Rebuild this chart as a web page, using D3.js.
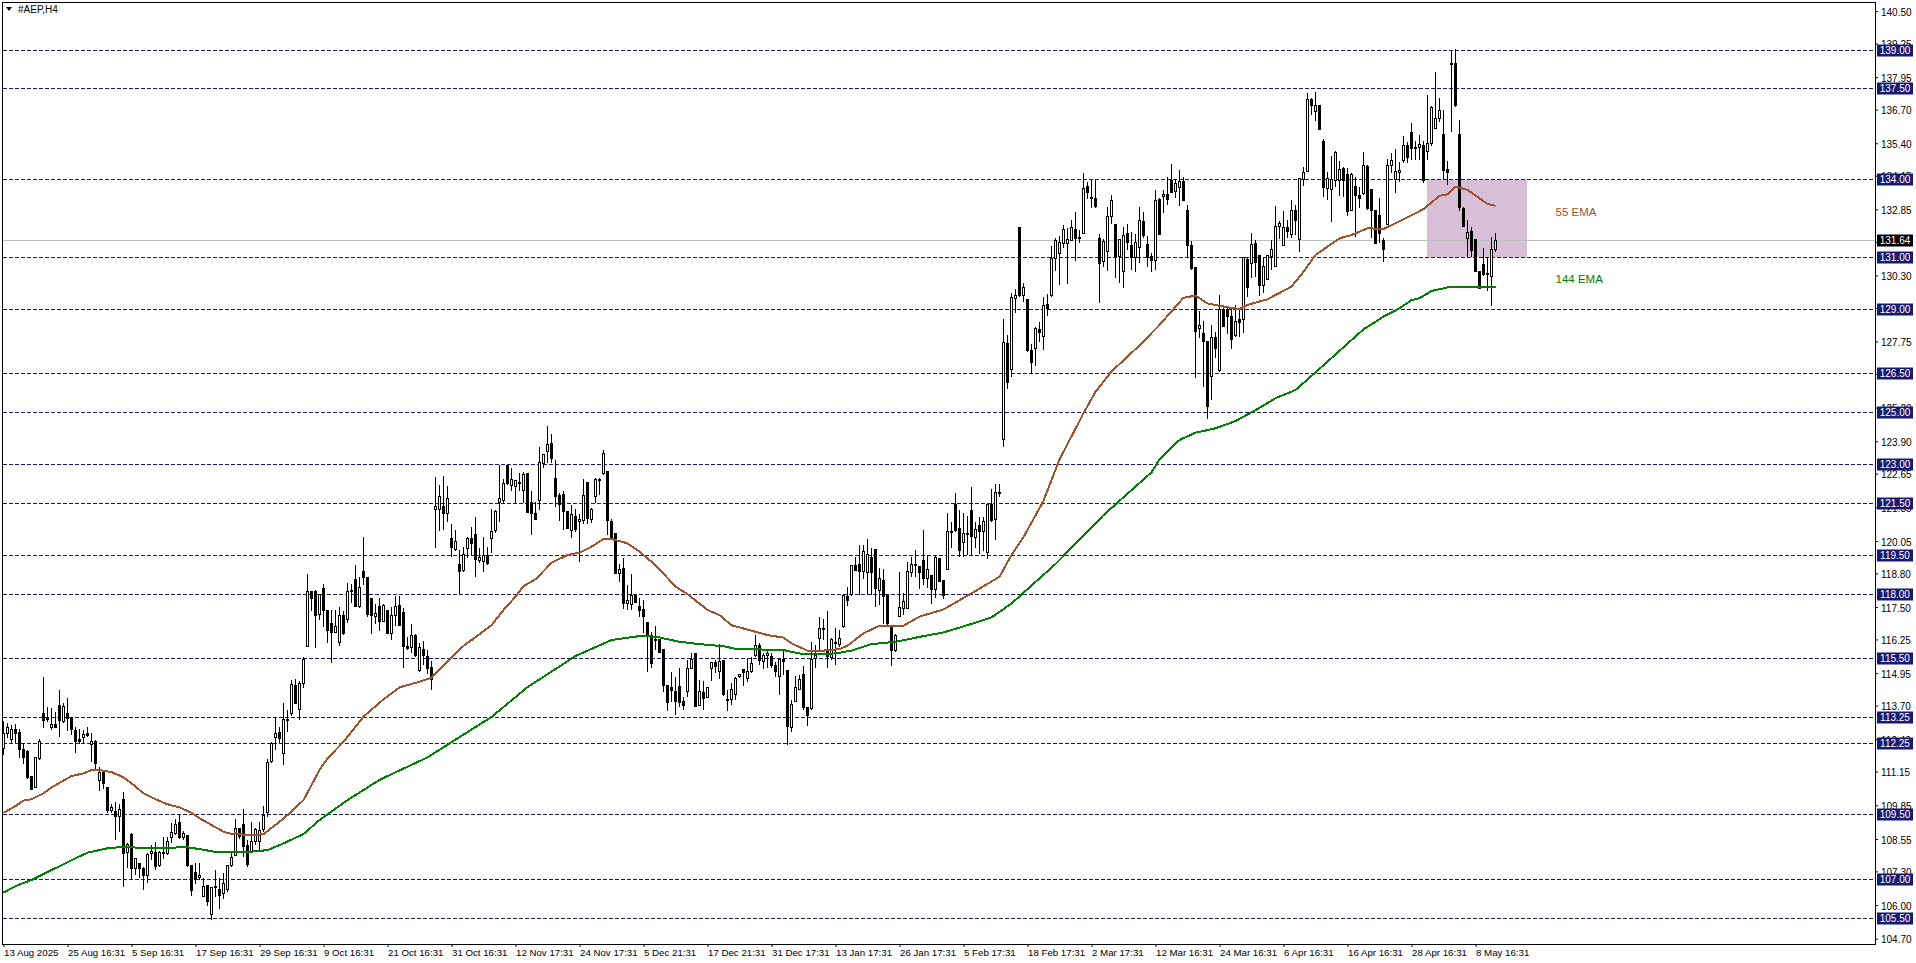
<!DOCTYPE html>
<html>
<head>
<meta charset="utf-8">
<title>#AEP,H4</title>
<script src="https://d3js.org/d3.v7.min.js"></script>
<style>
    body { margin: 0; background: #fff; overflow: hidden; }
    text { font-family: "Liberation Sans", sans-serif; }
</style>
</head>
<body>
<div id="chart"></div>
<script>
// Candles as [open, high, low, close], one small list per stretch of the chart
const barsAugSep = [
[112.05,113.12,111.79,112.63],[112.63,113.04,112.43,112.86],[112.40,112.95,112.24,112.78],[112.78,112.99,112.24,112.63],[112.67,112.78,111.66,112.02],
[112.01,112.24,111.44,111.70],[111.94,111.98,110.85,110.93],[110.98,110.98,110.44,110.47],[110.54,111.70,110.50,111.70],[111.66,112.40,111.60,112.30],
[113.40,114.81,112.82,113.14],[113.20,113.66,113.08,113.18],[112.85,113.59,112.76,112.95],[112.97,113.46,112.85,112.85],[113.72,114.30,112.50,113.14],
[113.11,113.78,113.04,113.68],[113.40,113.98,112.73,113.20],[113.20,113.27,112.56,112.76],[112.72,112.88,111.88,112.30],[112.37,112.79,112.21,112.30],
[112.47,112.76,112.21,112.59],[112.63,112.86,112.50,112.56],[112.18,112.63,111.53,112.30],[112.33,112.37,111.21,111.49],[110.80,111.34,110.41,111.11],
[111.11,111.21,110.47,110.67],[110.54,110.54,109.56,109.64],[109.64,109.90,109.54,109.77],[109.60,109.99,108.51,109.41],[109.41,109.90,108.83,109.69],
[110.08,110.38,106.71,108.00],[108.00,108.41,107.42,108.32],[108.74,108.77,106.99,107.42],[107.42,107.80,107.16,107.80],[107.61,107.61,107.03,107.42],
[107.42,107.48,106.58,107.16],[107.16,108.00,106.84,107.97],[108.00,108.32,107.74,108.06],[108.02,108.45,107.35,107.48],[107.51,108.10,107.48,108.02],
[108.02,108.61,107.76,108.00],[108.00,108.64,107.93,108.45],[108.61,109.15,108.41,108.79],[108.77,109.31,108.70,109.11],[109.19,109.47,108.54,108.61],
[108.61,108.86,108.51,108.77],[108.69,108.70,107.48,107.52],[107.52,107.52,106.35,106.55],[107.26,107.64,106.81,107.00],[107.07,107.64,106.97,107.13],
[106.36,107.03,106.30,106.73],[106.75,106.77,105.96,106.14],[105.62,106.71,105.42,106.68],[106.71,107.35,106.32,106.67],[106.61,107.03,105.83,106.39],
[106.45,107.22,106.22,106.84],[106.58,107.55,106.52,107.52],[107.52,108.02,107.48,107.84],[107.93,109.31,107.89,108.96],[108.96,108.96,108.54,108.64],
[109.11,109.69,107.87,108.25],[108.28,108.51,107.48,107.55],[108.06,109.22,108.02,108.45],[108.45,108.96,108.32,108.90],[108.45,109.22,108.06,108.87],
[108.90,109.82,108.83,109.45],[109.60,111.62,109.41,111.52],[111.53,112.30,111.49,112.24],[112.47,113.24,111.98,112.63],[112.65,112.88,112.24,112.41],
[111.85,113.78,111.40,113.17],[113.18,113.53,112.69,113.17],[113.42,114.68,113.30,114.52],[114.49,114.71,113.76,113.81],[113.55,114.65,113.14,114.56],
[114.53,115.56,114.36,115.46]
];
const barsOctNov = [
[115.97,118.78,115.95,118.09],[118.09,118.12,117.36,117.81],[118.12,118.16,115.91,117.19],[117.19,118.00,117.00,117.97],[118.22,118.39,116.72,117.36],
[117.35,117.39,116.10,116.59],[116.87,117.39,115.35,116.51],[116.51,117.39,116.51,116.74],[116.13,117.52,116.00,117.19],[117.16,117.35,116.42,116.46],
[117.00,118.42,116.87,118.09],[118.13,118.39,117.64,118.09],[118.57,119.12,117.52,117.54],[117.52,118.65,117.45,118.26],[118.87,120.22,118.35,118.65],
[118.65,118.67,117.13,117.23],[117.84,117.84,116.46,117.17],[117.16,117.60,116.85,117.26],[117.54,117.84,116.59,116.98],[116.98,117.60,116.98,117.58],
[117.35,117.35,116.46,116.46],[116.46,117.52,116.23,117.16],[117.19,117.93,116.77,117.54],[117.58,117.93,116.77,116.81],[117.30,117.45,115.14,115.97],
[115.97,116.33,115.84,115.91],[115.95,116.85,115.71,116.42],[116.42,116.46,115.59,115.65],[115.07,116.10,115.01,115.95],[115.85,116.20,115.25,115.60],
[115.60,115.85,114.90,115.15],[115.15,115.40,114.30,114.70],
[121.27,122.53,119.77,121.38],[121.27,122.21,120.45,121.76],[121.40,122.56,120.48,121.14],[121.14,122.17,120.80,121.70],[120.15,120.71,119.45,119.81],
[119.75,120.48,119.65,120.05],[119.16,119.70,117.99,118.90],[118.93,119.83,118.87,119.54],[119.73,120.19,119.38,120.13],[120.13,120.60,119.51,119.93],
[120.32,120.96,118.67,119.34],[119.32,119.77,119.19,119.42],[119.25,120.22,118.87,119.50],[119.50,119.81,119.12,119.21],[120.14,121.29,119.60,120.42],
[120.45,121.25,120.37,121.17],[121.53,122.98,120.80,121.70],[121.63,122.43,121.53,122.28],[122.95,122.98,122.21,122.25],[122.20,122.86,121.99,122.43],
[122.15,122.41,121.48,122.37],[122.31,122.66,121.99,122.30],[122.02,122.70,121.50,122.62],[122.66,122.66,121.14,121.16],[121.54,121.98,120.28,121.12],
[121.12,121.57,120.86,120.89],[121.61,123.67,121.25,123.07],[123.07,123.41,122.86,123.40],[123.51,124.49,123.07,123.77],[123.80,124.18,123.07,123.23],
[122.47,123.18,121.35,121.76],[121.79,121.92,120.84,121.44],[121.85,121.98,120.48,121.18],[121.19,121.22,120.51,120.54],[120.48,121.44,120.18,121.08],
[120.99,121.27,120.38,120.48],[120.81,121.09,119.25,120.89],[120.84,122.43,120.69,121.81],[122.29,122.31,120.69,120.90],[120.89,121.34,120.76,121.27],
[121.74,122.47,121.53,122.41],[122.43,122.47,121.83,122.38],[122.64,123.56,122.61,123.43]
];
const barsDecJan = [
[122.74,122.75,120.28,120.84],[120.80,120.90,120.09,120.13],[120.35,120.37,118.78,118.80],[118.80,119.16,118.48,118.96],[119.00,119.41,117.41,117.65],
[117.65,118.35,117.39,117.75],[117.61,118.78,117.39,117.95],[117.95,117.97,117.64,117.67],[117.54,117.84,117.13,117.39],[117.39,117.77,116.51,117.13],
[116.91,116.91,115.01,116.42],[116.40,116.55,115.14,115.33],[116.25,116.77,115.84,116.20],[116.23,116.23,115.71,115.74],[115.88,115.88,114.23,114.50],
[114.49,114.49,113.50,113.85],[114.38,114.99,113.85,114.27],[114.26,114.81,113.33,113.89],[114.45,115.14,113.63,113.85],[113.87,114.04,113.53,113.72],
[114.27,115.46,114.04,115.14],[115.14,115.74,115.14,115.48],[115.69,115.71,113.63,113.66],[113.72,114.69,113.68,114.25],[114.22,114.65,113.53,114.00],
[114.02,114.43,113.98,114.40],[115.14,115.39,114.66,115.37],[115.37,115.46,114.97,115.20],[115.01,116.07,114.71,115.41],[115.42,115.42,114.07,114.11],
[113.95,114.30,113.50,113.92],[113.94,114.56,113.72,114.33],[114.13,114.81,113.91,114.75],[114.79,114.92,114.75,114.88],[115.10,115.10,114.45,114.97],
[114.74,115.48,114.61,115.02],[115.01,115.59,114.97,115.33],[115.62,116.42,115.59,116.01],[116.00,116.10,115.26,115.43],[115.42,115.71,115.10,115.64],
[115.64,115.87,115.14,115.71],[115.59,115.74,115.14,115.26],[115.26,115.39,114.81,115.01],[114.81,115.50,114.11,115.47],[115.48,115.84,114.88,115.41],
[115.06,115.07,112.18,112.88],[112.86,113.91,112.69,113.75],[113.85,114.84,113.85,114.40],[114.34,114.88,114.30,114.71],[114.88,115.23,113.53,113.59],
[113.63,113.66,112.91,113.33],[113.55,116.16,113.53,115.46],[115.52,116.04,115.14,115.65],[116.29,117.13,115.84,116.68],[116.68,117.03,116.23,116.64],
[115.84,117.35,115.14,115.59],[115.56,116.29,115.46,116.25],[116.14,116.70,115.26,116.10],[116.07,116.61,115.97,116.29],[116.74,117.97,116.70,117.93],
[117.90,118.26,117.54,117.75],[117.97,119.12,117.93,119.10],[119.12,119.42,118.90,118.93],[119.16,119.90,117.97,118.90],[118.87,119.90,118.57,119.64],
[118.80,120.11,117.97,119.51],[119.42,119.77,117.97,118.83],[119.73,119.74,117.52,118.22],[118.13,118.99,117.58,118.61],[118.51,118.96,116.83,117.88],
[117.93,117.97,116.81,116.85],[116.74,116.77,115.23,115.82],[115.82,116.46,115.76,116.41],[117.13,118.84,117.13,117.49],[117.45,118.06,117.19,117.71],
[117.45,119.25,117.41,118.88],[118.85,119.42,118.67,119.15],[119.12,119.70,118.67,119.13],[119.08,119.08,118.18,118.83],[119.28,120.47,118.35,118.57],
[118.61,119.51,118.22,118.96],[118.70,118.70,117.62,118.16],[118.18,119.52,117.84,119.42],[119.39,119.39,118.48,118.52],[118.54,118.54,117.81,117.97],
[118.96,121.12,118.93,120.42],[120.42,120.80,119.77,120.38],[121.46,121.89,120.41,120.47],[120.54,121.25,119.45,119.68],[120.00,121.12,119.45,120.35],
[120.35,121.01,119.51,120.31],[121.21,122.12,119.51,120.19],[120.19,120.80,119.77,120.50],[120.65,120.99,119.55,120.42],[120.42,120.99,119.68,120.81],
[119.60,121.46,119.35,121.46],[121.44,122.04,120.80,120.82],[120.89,122.25,120.09,121.93],[121.93,122.25,121.76,121.92]
];
const barsFebMar = [
[123.97,128.62,123.67,127.72],[127.68,128.00,125.90,126.16],[126.68,129.61,126.39,129.45],[129.40,129.76,128.86,129.53],[132.16,132.18,129.48,129.54],
[129.54,130.02,129.29,129.84],[129.38,129.38,127.36,127.40],[127.42,127.65,126.48,126.97],[127.51,128.32,126.80,128.27],[128.23,128.52,127.74,128.12],
[127.97,129.48,127.42,129.15],[129.16,129.58,128.75,129.00],[129.52,131.44,129.48,130.96],[130.96,131.76,130.48,131.65],[131.15,131.82,129.93,131.58],
[131.54,132.25,131.35,132.08],[131.54,132.14,129.97,131.69],[131.67,132.44,131.64,132.16],[132.09,132.75,130.87,131.73],[131.77,132.05,131.54,131.76],
[131.92,134.27,131.90,133.66],[133.73,133.92,133.24,133.49],[133.31,133.97,132.89,133.29],[133.27,133.97,132.89,132.95],[131.71,131.90,129.22,130.74],
[130.81,131.69,130.61,131.60],[131.22,132.93,130.48,132.59],[132.57,133.40,132.28,133.20],[132.28,132.28,130.19,131.05],[131.00,131.69,130.00,131.67],
[130.45,132.16,129.80,131.85],[131.90,132.28,131.28,131.56],[131.47,131.98,130.51,131.02],[131.02,131.90,130.45,131.58],[131.37,132.95,130.77,132.43],
[132.39,132.76,131.73,131.86],[131.51,131.82,130.61,131.02],[131.04,131.15,130.45,130.87],[130.87,133.60,130.51,133.20],[133.24,133.27,131.86,131.87],
[133.34,133.60,132.72,133.43],[133.43,134.09,133.02,133.25],[133.97,134.60,133.50,133.50],[133.53,134.01,133.30,133.85],[133.69,134.37,132.99,133.93],
[133.93,134.09,133.19,133.21],[132.81,133.02,130.96,131.47],[131.47,131.63,130.51,130.57],[130.61,130.63,126.35,128.13],[128.25,128.93,127.87,128.35],
[128.04,128.55,126.01,127.74],[127.74,127.78,124.75,125.23],[126.39,128.39,125.49,127.91],[127.91,128.13,127.10,127.50],[126.62,129.54,126.59,128.97],
[128.99,129.16,128.30,128.32],[128.99,129.10,128.04,128.73],[128.73,129.10,127.47,127.86],[128.00,129.16,127.91,128.54],[128.58,128.99,127.91,128.48]
];
const barsAprMay = [
[128.60,131.00,128.09,131.00],[130.93,131.00,129.48,129.84],[130.77,131.92,130.21,131.50],[131.54,131.67,130.25,130.79],[131.08,131.08,129.52,129.94],
[129.94,130.96,129.61,130.66],[130.15,131.09,130.12,131.08],[131.05,131.67,130.51,131.31],[130.64,132.98,130.64,132.18],[132.18,132.41,131.69,132.31],
[131.45,132.79,131.45,132.16],[132.16,132.44,131.73,131.99],[131.90,133.21,131.73,132.82],[132.79,133.02,131.86,132.41],[131.69,134.05,131.22,134.05],
[134.02,134.50,133.76,134.28],[134.34,137.33,134.34,137.10],[137.10,137.14,136.50,136.87],[136.62,137.37,136.27,136.87],[136.87,136.89,135.95,135.96],
[135.45,135.55,133.34,133.69],[133.66,134.28,133.21,134.03],[133.62,134.91,132.38,134.01],[133.98,135.10,133.73,135.05],[133.98,134.72,133.37,134.39],
[134.43,134.47,133.34,133.98],[134.21,134.43,132.59,132.80],[132.82,134.27,132.80,134.21],[133.73,134.09,131.77,133.38],[133.40,133.73,132.89,133.30],
[133.49,135.08,133.40,134.56],[134.52,134.56,132.82,132.91],[133.60,133.60,131.73,132.80],[132.82,132.82,131.51,131.54],[132.63,133.27,131.54,131.92],
[131.63,131.73,130.83,131.28],[132.28,134.78,132.25,134.56],[134.57,135.01,134.24,134.75],[134.03,135.17,133.49,134.32],[134.27,134.69,133.92,134.36],
[134.73,135.68,134.63,135.30],[135.30,135.46,134.65,134.82],[135.81,136.17,134.75,135.20],[135.24,135.49,134.75,135.23],[135.24,135.72,134.75,135.36],
[135.33,135.49,133.85,133.98],[135.11,137.26,134.75,135.40],[135.42,136.84,135.30,136.80],[135.98,138.14,135.98,136.36],[136.35,137.13,136.23,136.65],
[135.75,136.68,133.98,134.37],[134.37,134.72,133.79,134.27],[138.49,138.99,135.85,138.45],[138.46,139.04,136.81,136.85],[135.74,136.30,132.80,132.93],
[132.89,132.95,132.16,132.18],[131.73,132.44,131.00,131.96],[132.01,132.18,131.00,131.26],[131.69,131.69,130.42,130.44],[130.47,130.47,129.78,129.80],
[130.73,131.35,130.29,130.34],[130.38,131.00,129.71,130.34],[130.25,131.77,129.12,131.31],[131.31,131.92,131.22,131.64]
];

// Moving averages, read at these candle numbers
const ema55Bars = [0,3,5,7,10,12,15,17,20,22,24,27,30,32,35,38,41,44,47,49,52,55,57,58,60,63,65,68,71,75,77,79,81,85,90,95,99,104,107,115,122,125,128,130,133,137,141,144,147,150,152,156,159,163,168,171,176,179,182,187,191,195,197,201,205,209,211,215,219,225,229,235,242,249,252,255,260,264,270,273,277,284,289,295,298,301,306,309,311,316,322,325,328,334,337,341,345,351,355,359,361,363,366,371,373];
const ema55Values = [109.56,109.82,110.03,110.08,110.31,110.54,110.80,110.98,111.08,111.21,111.21,111.13,110.93,110.70,110.31,110.08,109.89,109.77,109.56,109.35,109.09,108.83,108.74,108.77,108.72,108.70,108.74,109.09,109.47,110.05,110.63,111.21,111.66,112.30,113.27,113.94,114.40,114.62,114.78,116.00,116.80,117.39,117.90,118.31,118.57,119.21,119.51,119.60,119.83,120.13,120.13,119.96,119.64,119.12,118.29,118.00,117.39,117.19,116.80,116.59,116.42,116.32,116.10,115.82,115.82,115.88,116.01,116.49,116.78,116.78,117.13,117.41,118.03,118.67,119.51,120.20,121.60,123.20,124.98,125.81,126.59,127.60,128.39,129.44,129.52,129.22,129.07,129.00,129.16,129.38,129.87,130.44,131.09,131.73,131.86,132.12,132.09,132.54,132.86,133.37,133.43,133.73,133.60,133.06,132.98];
const ema144Bars = [0,3,7,10,14,18,21,26,30,34,42,45,49,53,62,66,70,75,79,86,94,101,106,122,131,143,152,159,163,169,174,180,183,195,200,208,212,217,223,230,235,242,247,252,263,275,287,289,294,298,303,308,313,318,323,327,340,345,349,352,354,357,362,373];
const ema144Values = [106.48,106.73,106.97,107.20,107.50,107.81,108.02,108.19,108.25,108.21,108.20,108.25,108.16,108.05,108.06,108.12,108.38,108.74,109.28,110.05,110.83,111.34,111.70,113.26,114.41,115.61,116.23,116.38,116.36,116.16,116.07,115.99,115.89,115.84,115.68,115.71,115.82,116.07,116.16,116.38,116.52,116.85,117.10,117.64,119.16,121.05,122.70,123.20,123.95,124.23,124.40,124.68,125.10,125.56,125.88,126.42,128.22,128.71,129.03,129.35,129.42,129.70,129.87,129.87];

// Horizontal levels, price axis and time axis
const levels = [139,137.5,134,131,129,126.5,125,123,121.5,119.5,118,115.5,113.25,112.25,109.5,107,105.5];
const lastPrice = 131.64;
const priceTicks = [140.5,139.25,137.95,136.7,135.4,134.15,132.85,131.6,130.3,129.05,127.75,126.5,125.2,123.9,122.65,121.35,120.05,118.8,117.5,116.25,114.95,113.7,112.4,111.15,109.85,108.55,107.3,106,104.7];
const timeLabels = ["13 Aug 2025","25 Aug 16:31","5 Sep 16:31","17 Sep 16:31","29 Sep 16:31","9 Oct 16:31","21 Oct 16:31","31 Oct 16:31","12 Nov 17:31","24 Nov 17:31","5 Dec 21:31","17 Dec 21:31","31 Dec 17:31","13 Jan 17:31","26 Jan 17:31","5 Feb 17:31","18 Feb 17:31","2 Mar 17:31","12 Mar 16:31","24 Mar 16:31","6 Apr 16:31","16 Apr 16:31","28 Apr 16:31","8 May 16:31"];

// Colors
const colors = {
    level: "midnightblue",
    last: "#c0c0c0",
    zone: "#d8bfd8",
    ema55: "#a0522d",
    ema144: "#008000"
};

const width = 1916, height = 963;
const plot = { left: 2, right: 1875, top: 2, bottom: 944 };
const bars = [...barsAugSep, ...barsOctNov, ...barsDecJan, ...barsFebMar, ...barsAprMay];

const x = d3.scaleLinear().domain([0, bars.length - 1]).range([3.5, 3.5 + 4 * (bars.length - 1)]);
const y = d3.scaleLinear().domain([105.5, 139]).range([918, 50]);
const snap = v => Math.round(v - 0.5) + 0.5;

const svg = d3.select("#chart").append("svg")
    .attr("width", width)
    .attr("height", height)
    .style("display", "block");

svg.append("rect").attr("width", width).attr("height", height).attr("fill", "#fff");

// Shaded zone between 134 and 131
svg.append("rect")
    .attr("x", x(356) - 0.5)
    .attr("y", y(134))
    .attr("width", x(381) - x(356))
    .attr("height", y(131) - y(134))
    .attr("fill", colors.zone);

// Last price line
svg.append("line")
    .attr("x1", plot.left).attr("x2", plot.right)
    .attr("y1", snap(y(lastPrice))).attr("y2", snap(y(lastPrice)))
    .attr("stroke", colors.last);

// Dashed levels
svg.selectAll(".level")
    .data(levels)
    .enter()
    .append("line")
    .attr("class", "level")
    .attr("x1", plot.left + 1).attr("x2", plot.right)
    .attr("y1", d => snap(y(d))).attr("y2", d => snap(y(d)))
    .attr("stroke", colors.level)
    .attr("stroke-dasharray", "4,2")
    .attr("shape-rendering", "crispEdges");

// Candles
const candle = svg.append("g").attr("shape-rendering", "crispEdges")
    .selectAll("g")
    .data(bars)
    .enter()
    .append("g");

candle.append("line")
    .attr("x1", (d, i) => x(i)).attr("x2", (d, i) => x(i))
    .attr("y1", d => Math.round(y(d[1]))).attr("y2", d => Math.round(y(d[2])))
    .attr("stroke", "#000");

candle.append("rect")
    .attr("x", (d, i) => x(i) - 1)
    .attr("y", d => snap(y(Math.max(d[0], d[3]))))
    .attr("width", 2)
    .attr("height", d => Math.max(1, Math.round(Math.abs(y(d[0]) - y(d[3])))))
    .attr("fill", d => d[3] >= d[0] ? "#fff" : "#000")
    .attr("stroke", "#000");

// EMA lines
const emaLine = (bars, values) => d3.line()
    .x((d, i) => x(bars[i]))
    .y((d, i) => y(values[i]))(values);

svg.append("path")
    .attr("d", emaLine(ema55Bars, ema55Values))
    .attr("fill", "none")
    .attr("stroke", colors.ema55)
    .attr("stroke-width", 2)
    .attr("shape-rendering", "crispEdges");

svg.append("path")
    .attr("d", emaLine(ema144Bars, ema144Values))
    .attr("fill", "none")
    .attr("stroke", colors.ema144)
    .attr("stroke-width", 2)
    .attr("shape-rendering", "crispEdges");

// EMA labels
svg.append("text").attr("x", x(388)).attr("y", y(132.6))
    .attr("font-size", 11.5).attr("fill", colors.ema55).text("55 EMA");
svg.append("text").attr("x", x(388)).attr("y", y(130))
    .attr("font-size", 11.5).attr("fill", colors.ema144).text("144 EMA");

// Frame
svg.append("rect")
    .attr("x", plot.left).attr("y", plot.top)
    .attr("width", plot.right - plot.left).attr("height", plot.bottom - plot.top)
    .attr("fill", "none")
    .attr("stroke", "#000")
    .attr("stroke-width", 1)
    .attr("shape-rendering", "crispEdges");

// Price axis
const yAxis = svg.append("g")
    .attr("transform", `translate(${plot.right},0)`)
    .call(d3.axisRight(y).tickValues(priceTicks).tickFormat(d3.format(".2f")).tickSize(3).tickPadding(3));
yAxis.select(".domain").remove();
yAxis.selectAll("text").attr("font-size", 10).attr("font-family", "Liberation Sans").attr("fill", "#000").attr("dy", "0.42em");

// Time axis
const xAxis = svg.append("g")
    .attr("transform", `translate(0,${plot.bottom})`)
    .call(d3.axisBottom(x)
        .tickValues(timeLabels.map((d, i) => i * 16))
        .tickFormat((d, i) => timeLabels[i])
        .tickSize(3)
        .tickPadding(2));
xAxis.select(".domain").remove();
xAxis.selectAll("text").attr("font-size", 9.7).attr("font-family", "Liberation Sans").attr("fill", "#000").attr("text-anchor", "start");

// Price tags on the axis
const tag = svg.selectAll(".tag")
    .data(levels.map(d => ({ price: d, fill: colors.level })).concat([{ price: lastPrice, fill: "#000" }]))
    .enter()
    .append("g")
    .attr("class", "tag")
    .attr("transform", d => `translate(${plot.right + 2},${snap(y(d.price))})`);

tag.append("rect")
    .attr("y", -6).attr("width", 36).attr("height", 12)
    .attr("fill", d => d.fill);

tag.append("text")
    .attr("x", 18).attr("y", 3.5)
    .attr("text-anchor", "middle")
    .attr("font-size", 10)
    .attr("fill", "#fff")
    .text(d => d3.format(".2f")(d.price));

// Title with the small window arrow
svg.append("path").attr("d", d3.line()([[6, 7], [12, 7], [9, 11]])).attr("fill", "#000");
svg.append("text").attr("x", 18).attr("y", 13).attr("font-size", 10).text("#AEP,H4");
</script>
</body>
</html>
